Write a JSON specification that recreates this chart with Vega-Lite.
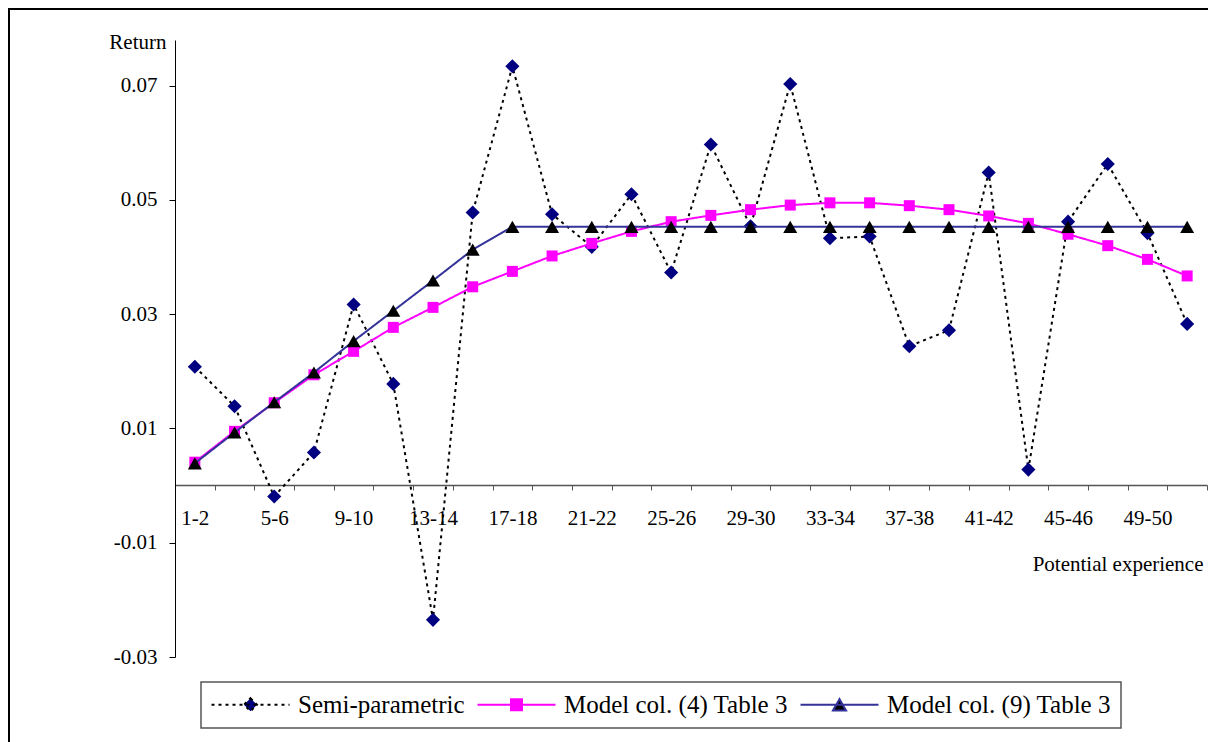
{
  "$schema": "https://vega.github.io/schema/vega-lite/v6.json",
  "width": 1199,
  "height": 733,
  "autosize": {"type": "none"},
  "padding": {"left": 9, "top": 9, "right": 0, "bottom": 0},
  "background": "white",
  "config": {
    "font": "Liberation Serif",
    "view": {"stroke": "black", "strokeWidth": 2, "strokeDash": [1199, 1932, 740], "fill": "white"},
    "axis": {"grid": false, "titleFontWeight": "normal", "titleColor": "black", "labelColor": "black", "titleFont": "Liberation Serif", "labelFont": "Liberation Serif"}
  },
  "data": {
    "values": [
      {"exp": "1-2", "series": "Semi-parametric", "ret": 0.0208},
      {"exp": "3-4", "series": "Semi-parametric", "ret": 0.0139},
      {"exp": "5-6", "series": "Semi-parametric", "ret": -0.0019},
      {"exp": "7-8", "series": "Semi-parametric", "ret": 0.0058},
      {"exp": "9-10", "series": "Semi-parametric", "ret": 0.0317},
      {"exp": "11-12", "series": "Semi-parametric", "ret": 0.0178},
      {"exp": "13-14", "series": "Semi-parametric", "ret": -0.0235},
      {"exp": "15-16", "series": "Semi-parametric", "ret": 0.0478},
      {"exp": "17-18", "series": "Semi-parametric", "ret": 0.0734},
      {"exp": "19-20", "series": "Semi-parametric", "ret": 0.0475},
      {"exp": "21-22", "series": "Semi-parametric", "ret": 0.0418},
      {"exp": "23-24", "series": "Semi-parametric", "ret": 0.0510},
      {"exp": "25-26", "series": "Semi-parametric", "ret": 0.0373},
      {"exp": "27-28", "series": "Semi-parametric", "ret": 0.0597},
      {"exp": "29-30", "series": "Semi-parametric", "ret": 0.0454},
      {"exp": "31-32", "series": "Semi-parametric", "ret": 0.0703},
      {"exp": "33-34", "series": "Semi-parametric", "ret": 0.0433},
      {"exp": "35-36", "series": "Semi-parametric", "ret": 0.0436},
      {"exp": "37-38", "series": "Semi-parametric", "ret": 0.0244},
      {"exp": "39-40", "series": "Semi-parametric", "ret": 0.0272},
      {"exp": "41-42", "series": "Semi-parametric", "ret": 0.0548},
      {"exp": "43-44", "series": "Semi-parametric", "ret": 0.0028},
      {"exp": "45-46", "series": "Semi-parametric", "ret": 0.0462},
      {"exp": "47-48", "series": "Semi-parametric", "ret": 0.0563},
      {"exp": "49-50", "series": "Semi-parametric", "ret": 0.0442},
      {"exp": "51-52", "series": "Semi-parametric", "ret": 0.0283},
      {"exp": "1-2", "series": "Model col. (4) Table 3", "ret": 0.0041},
      {"exp": "3-4", "series": "Model col. (4) Table 3", "ret": 0.0095},
      {"exp": "5-6", "series": "Model col. (4) Table 3", "ret": 0.0145},
      {"exp": "7-8", "series": "Model col. (4) Table 3", "ret": 0.0194},
      {"exp": "9-10", "series": "Model col. (4) Table 3", "ret": 0.0235},
      {"exp": "11-12", "series": "Model col. (4) Table 3", "ret": 0.0277},
      {"exp": "13-14", "series": "Model col. (4) Table 3", "ret": 0.0312},
      {"exp": "15-16", "series": "Model col. (4) Table 3", "ret": 0.0348},
      {"exp": "17-18", "series": "Model col. (4) Table 3", "ret": 0.0375},
      {"exp": "19-20", "series": "Model col. (4) Table 3", "ret": 0.0402},
      {"exp": "21-22", "series": "Model col. (4) Table 3", "ret": 0.0424},
      {"exp": "23-24", "series": "Model col. (4) Table 3", "ret": 0.0445},
      {"exp": "25-26", "series": "Model col. (4) Table 3", "ret": 0.0462},
      {"exp": "27-28", "series": "Model col. (4) Table 3", "ret": 0.0473},
      {"exp": "29-30", "series": "Model col. (4) Table 3", "ret": 0.0483},
      {"exp": "31-32", "series": "Model col. (4) Table 3", "ret": 0.0491},
      {"exp": "33-34", "series": "Model col. (4) Table 3", "ret": 0.0495},
      {"exp": "35-36", "series": "Model col. (4) Table 3", "ret": 0.0495},
      {"exp": "37-38", "series": "Model col. (4) Table 3", "ret": 0.0490},
      {"exp": "39-40", "series": "Model col. (4) Table 3", "ret": 0.0483},
      {"exp": "41-42", "series": "Model col. (4) Table 3", "ret": 0.0472},
      {"exp": "43-44", "series": "Model col. (4) Table 3", "ret": 0.0459},
      {"exp": "45-46", "series": "Model col. (4) Table 3", "ret": 0.0440},
      {"exp": "47-48", "series": "Model col. (4) Table 3", "ret": 0.0420},
      {"exp": "49-50", "series": "Model col. (4) Table 3", "ret": 0.0396},
      {"exp": "51-52", "series": "Model col. (4) Table 3", "ret": 0.0367},
      {"exp": "1-2", "series": "Model col. (9) Table 3", "ret": 0.0039},
      {"exp": "3-4", "series": "Model col. (9) Table 3", "ret": 0.0093},
      {"exp": "5-6", "series": "Model col. (9) Table 3", "ret": 0.0146},
      {"exp": "7-8", "series": "Model col. (9) Table 3", "ret": 0.0198},
      {"exp": "9-10", "series": "Model col. (9) Table 3", "ret": 0.0253},
      {"exp": "11-12", "series": "Model col. (9) Table 3", "ret": 0.0306},
      {"exp": "13-14", "series": "Model col. (9) Table 3", "ret": 0.0359},
      {"exp": "15-16", "series": "Model col. (9) Table 3", "ret": 0.0413},
      {"exp": "17-18", "series": "Model col. (9) Table 3", "ret": 0.0453},
      {"exp": "19-20", "series": "Model col. (9) Table 3", "ret": 0.0453},
      {"exp": "21-22", "series": "Model col. (9) Table 3", "ret": 0.0453},
      {"exp": "23-24", "series": "Model col. (9) Table 3", "ret": 0.0453},
      {"exp": "25-26", "series": "Model col. (9) Table 3", "ret": 0.0453},
      {"exp": "27-28", "series": "Model col. (9) Table 3", "ret": 0.0453},
      {"exp": "29-30", "series": "Model col. (9) Table 3", "ret": 0.0453},
      {"exp": "31-32", "series": "Model col. (9) Table 3", "ret": 0.0453},
      {"exp": "33-34", "series": "Model col. (9) Table 3", "ret": 0.0453},
      {"exp": "35-36", "series": "Model col. (9) Table 3", "ret": 0.0453},
      {"exp": "37-38", "series": "Model col. (9) Table 3", "ret": 0.0453},
      {"exp": "39-40", "series": "Model col. (9) Table 3", "ret": 0.0453},
      {"exp": "41-42", "series": "Model col. (9) Table 3", "ret": 0.0453},
      {"exp": "43-44", "series": "Model col. (9) Table 3", "ret": 0.0453},
      {"exp": "45-46", "series": "Model col. (9) Table 3", "ret": 0.0453},
      {"exp": "47-48", "series": "Model col. (9) Table 3", "ret": 0.0453},
      {"exp": "49-50", "series": "Model col. (9) Table 3", "ret": 0.0453},
      {"exp": "51-52", "series": "Model col. (9) Table 3", "ret": 0.0453}
    ]
  },
  "encoding": {
    "x": {
      "field": "exp",
      "type": "nominal",
      "sort": null,
      "scale": {
        "type": "band",
        "domain": ["1-2","3-4","5-6","7-8","9-10","11-12","13-14","15-16","17-18","19-20","21-22","23-24","25-26","27-28","29-30","31-32","33-34","35-36","37-38","39-40","41-42","43-44","45-46","47-48","49-50","51-52"],
        "range": [166, 1198],
        "paddingInner": 0,
        "paddingOuter": 0
      },
      "axis": {
        "orient": "bottom",
        "offset": -257,
        "title": "Potential experience",
        "titleX": 1194,
        "titleY": 85,
        "titleAlign": "right",
        "titleBaseline": "alphabetic",
        "titleFontSize": 21,
        "labelAngle": 0,
        "labelFontSize": 21,
        "labelPadding": 17,
        "labelOverlap": false,
        "labelExpr": "(toNumber(split(datum.label, '-')[0]) % 4 == 1) ? datum.label : ''",
        "tickBand": "extent",
        "tickSize": 5,
        "tickColor": "#555555",
        "domainColor": "#555555",
        "domainWidth": 1.5
      }
    },
    "y": {
      "field": "ret",
      "type": "quantitative",
      "scale": {"domain": [-0.03, 0.078], "range": [648, 31], "nice": false, "zero": false},
      "axis": {
        "orient": "left",
        "offset": -166,
        "values": [-0.03, -0.01, 0.01, 0.03, 0.05, 0.07],
        "format": ".2f",
        "labelExpr": "replace(datum.label, '\u2212', '-')",
        "labelFontSize": 21,
        "labelPadding": 12,
        "tickSize": 6,
        "tickColor": "black",
        "domainColor": "black",
        "title": "Return",
        "titleAngle": 0,
        "titleAlign": "right",
        "titleBaseline": "alphabetic",
        "titleX": -9,
        "titleY": 39,
        "titleFontSize": 21
      }
    }
  },
  "layer": [
    {
      "transform": [{"filter": "datum.series === 'Semi-parametric'"}],
      "mark": {"type": "line", "strokeWidth": 2},
      "encoding": {
        "color": {
          "field": "series",
          "type": "nominal",
          "scale": {"domain": ["Semi-parametric", "Model col. (4) Table 3", "Model col. (9) Table 3"], "range": ["black", "#FF00FF", "#333399"]},
          "legend": {
            "orient": "none",
            "legendX": 192,
            "legendY": 673,
            "direction": "horizontal",
            "columns": 3,
            "title": null,
            "padding": 10,
            "columnPadding": 8,
            "strokeColor": "#555555",
            "symbolSize": 169,
            "symbolStrokeWidth": 2,
            "symbolOffset": 27,
            "labelOffset": 35,
            "labelFont": "Liberation Serif",
            "labelFontSize": 25,
            "labelColor": "black",
            "labelLimit": 0,
            "encode": {
              "legend": {"update": {"strokeWidth": {"value": 1.5}}},
              "symbols": {
                "update": {
                  "shape": {"signal": "datum.value === 'Semi-parametric' ? 'M-6,0H6M0,-1L1,0L0,1L-1,0Z' : datum.value === 'Model col. (4) Table 3' ? 'M-6,0H6M-0.85,-0.85H0.85V0.85H-0.85Z' : 'M-6,0H6M0,-0.87L1,0.87H-1Z'"},
                  "fill": {"signal": "datum.value === 'Semi-parametric' ? '#000080' : datum.value === 'Model col. (4) Table 3' ? '#FF00FF' : 'black'"},
                  "strokeDash": {"signal": "datum.value === 'Semi-parametric' ? [4, 4] : [1, 0]"},
                  "opacity": {"value": 1}
                }
              }
            }
          }
        },
        "strokeDash": {
          "field": "series",
          "type": "nominal",
          "scale": {"domain": ["Semi-parametric", "Model col. (4) Table 3", "Model col. (9) Table 3"], "range": [[3, 4], [1, 0], [1, 0]]},
          "legend": null
        }
      }
    },
    {
      "transform": [{"filter": "datum.series === 'Semi-parametric'"}],
      "mark": {"type": "point", "shape": "diamond", "filled": true, "size": 200, "color": "#000080", "opacity": 1, "strokeWidth": 0}
    },
    {
      "transform": [{"filter": "datum.series === 'Model col. (4) Table 3'"}],
      "mark": {"type": "line", "strokeWidth": 2},
      "encoding": {
        "color": {"field": "series", "type": "nominal"},
        "strokeDash": {"field": "series", "type": "nominal", "legend": null}
      }
    },
    {
      "transform": [{"filter": "datum.series === 'Model col. (4) Table 3'"}],
      "mark": {"type": "point", "shape": "square", "filled": true, "size": 121, "color": "#FF00FF", "opacity": 1, "strokeWidth": 0}
    },
    {
      "transform": [{"filter": "datum.series === 'Model col. (9) Table 3'"}],
      "mark": {"type": "line", "strokeWidth": 2},
      "encoding": {
        "color": {"field": "series", "type": "nominal"},
        "strokeDash": {"field": "series", "type": "nominal", "legend": null}
      }
    },
    {
      "transform": [{"filter": "datum.series === 'Model col. (9) Table 3'"}],
      "mark": {"type": "point", "shape": "triangle-up", "filled": true, "size": 196, "color": "black", "opacity": 1, "strokeWidth": 0}
    }
  ]
}
